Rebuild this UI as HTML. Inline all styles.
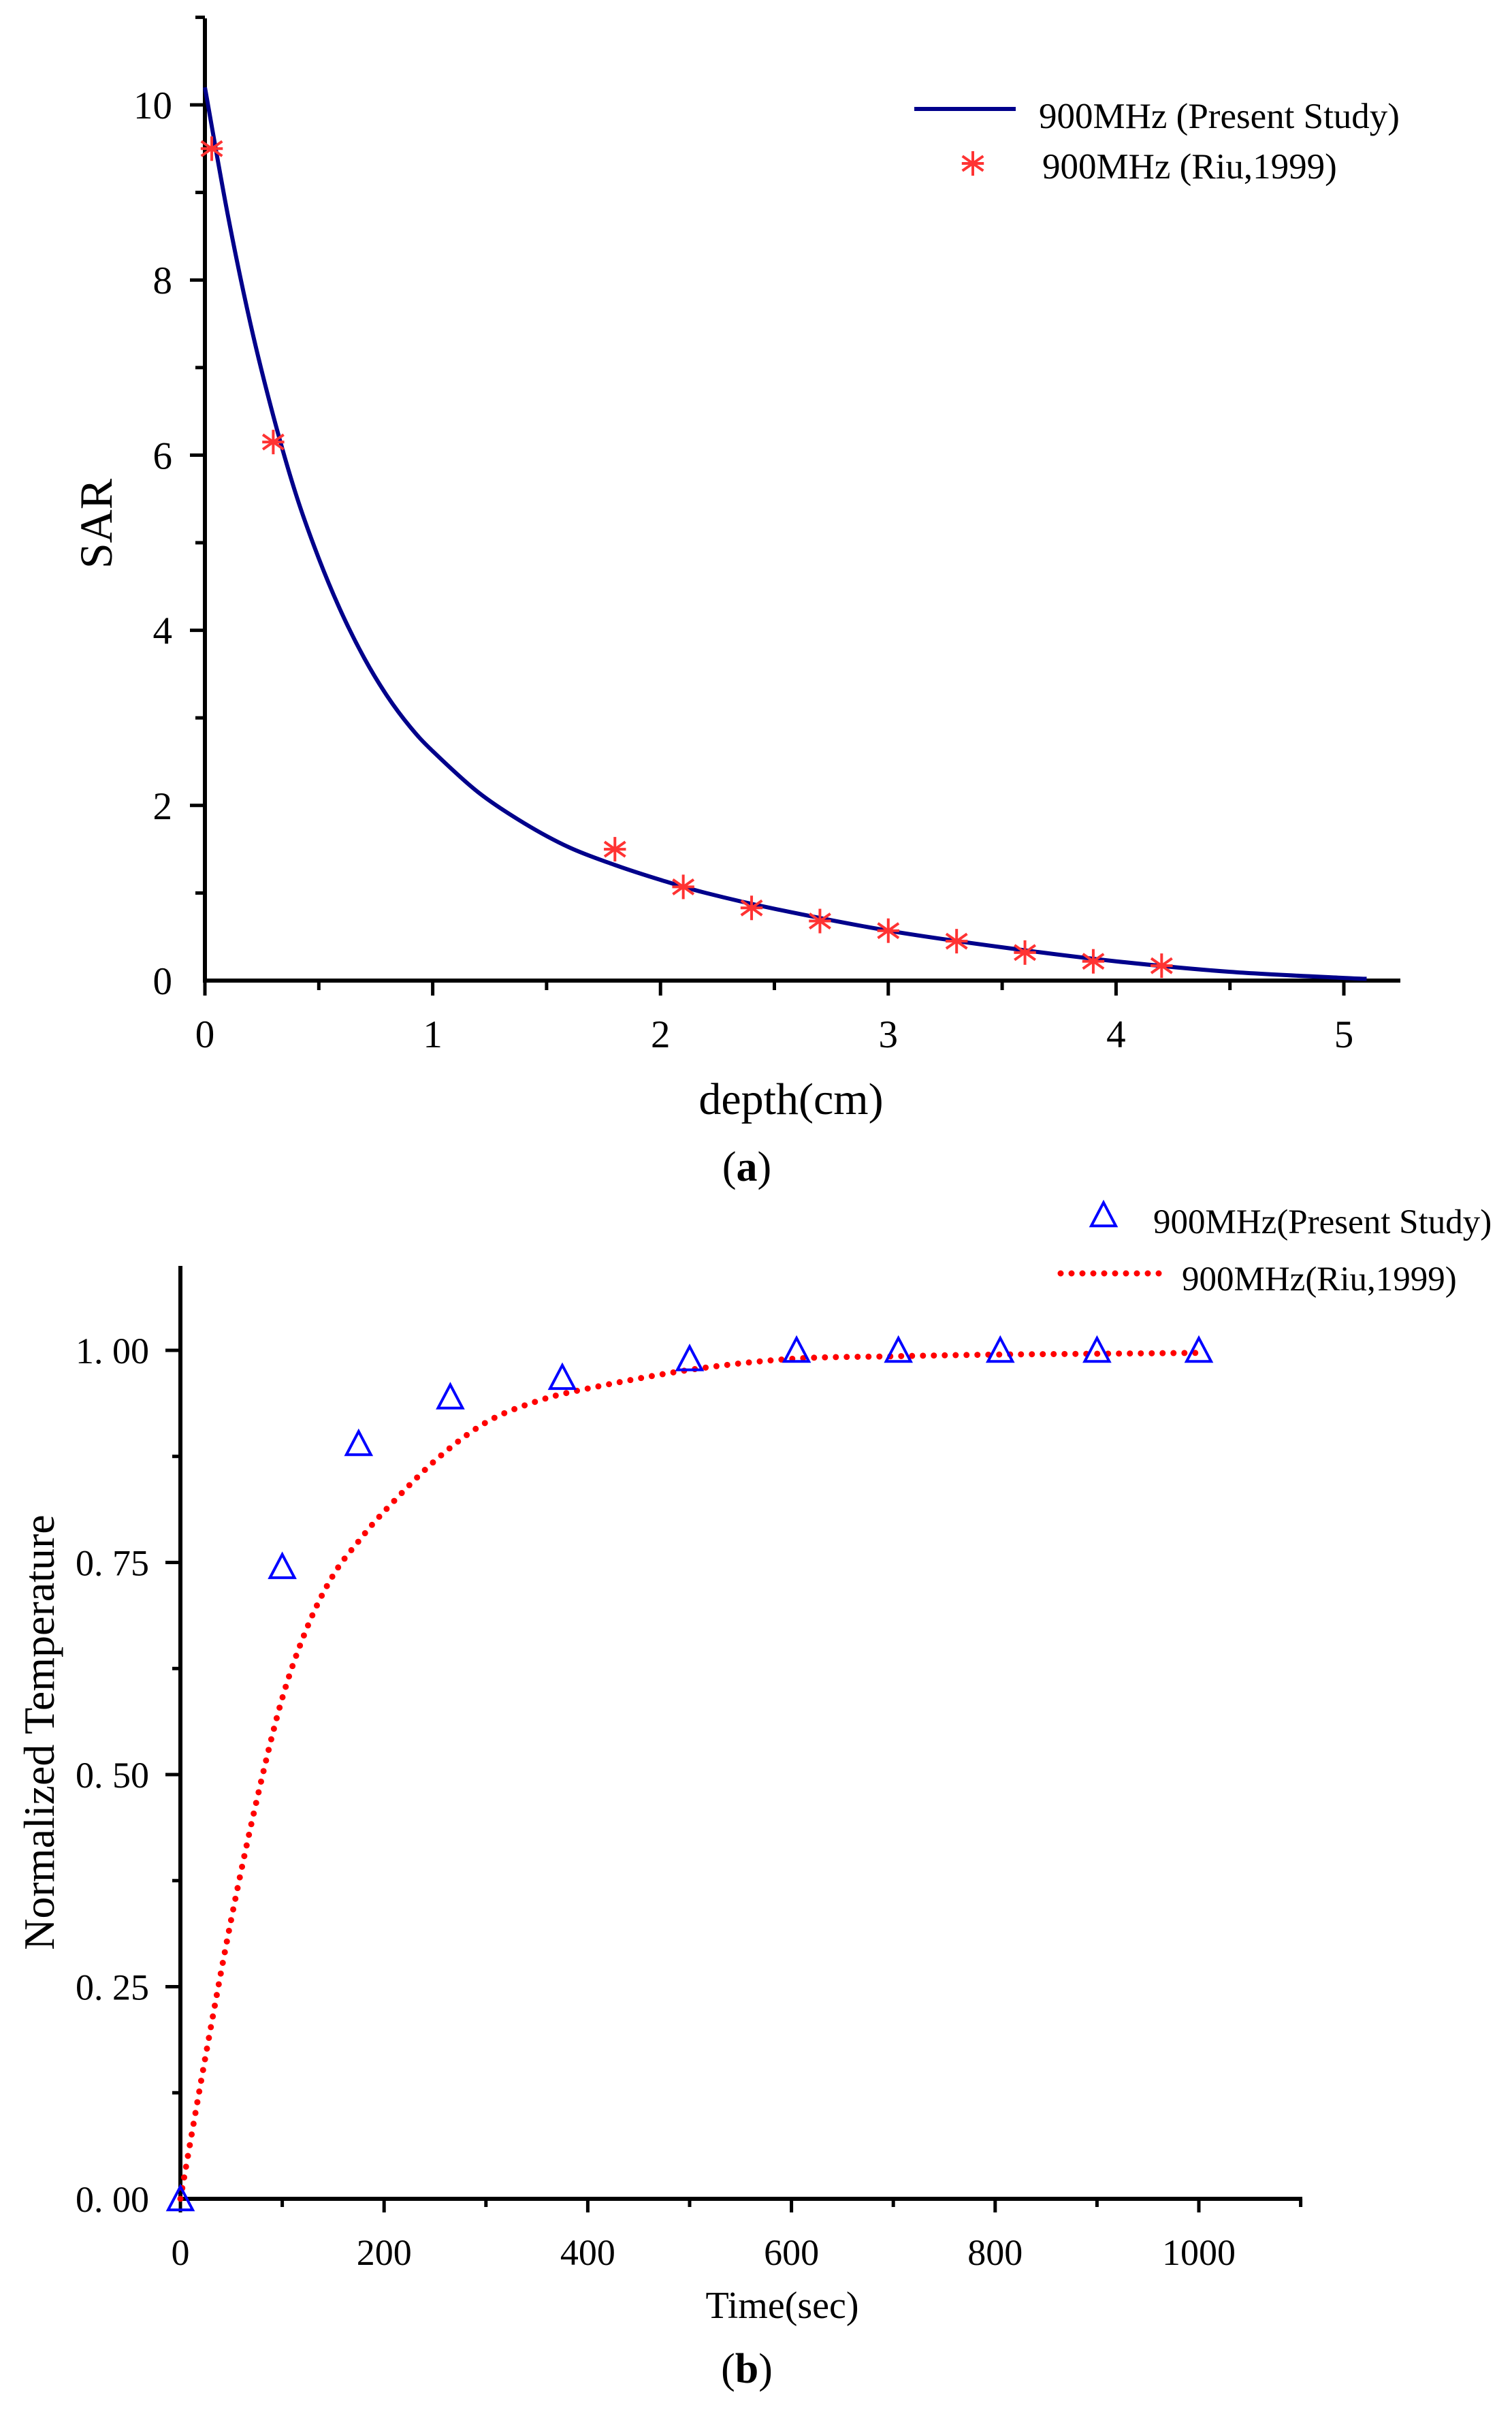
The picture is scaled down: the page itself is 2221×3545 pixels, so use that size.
<!DOCTYPE html>
<html><head><meta charset="utf-8"><style>
html,body{margin:0;padding:0;background:#fff}
svg{display:block}
text{font-family:"Liberation Serif",serif;fill:#000}
</style></head><body>
<svg id="fig" width="2221" height="3545" viewBox="0 0 2221 3545" xmlns="http://www.w3.org/2000/svg">
<g id="ga"></g>
<g id="gb"></g>
</svg>
<script>
// ---- Chart (a) data ----
const sarDepth = [0,0.1,0.2,0.3,0.4,0.5,0.6,0.7,0.8,0.9,1.0,1.2,1.4,1.6,1.8,2.0,2.2,2.5,3.0,3.5,4.0,4.5,5.0,5.1];
const sarValue = [10.2,8.75,7.5,6.45,5.55,4.82,4.2,3.68,3.25,2.9,2.62,2.15,1.8,1.52,1.32,1.15,1.0,0.82,0.57,0.38,0.22,0.1,0.03,0.02];
const riuDepth = [0.03,0.3,1.8,2.1,2.4,2.7,3.0,3.3,3.6,3.9,4.2];
const riuSar = [9.5,6.15,1.5,1.07,0.83,0.68,0.57,0.45,0.32,0.22,0.17];
const aXTicks = [0,1,2,3,4,5];
const aYTicks = [0,2,4,6,8,10];
// ---- Chart (b) data ----
const timeVals = [0,25,50,75,100,125,150,175,200,250,300,350,400,500,600,700,800,900,1000];
const riuTemp = [0,0.17,0.33,0.47,0.59,0.675,0.735,0.775,0.81,0.87,0.915,0.94,0.955,0.977,0.99,0.993,0.995,0.996,0.997];
const presTime = [0,100,175,265,375,500,605,705,805,900,1000];
const presTemp = [0,0.745,0.89,0.945,0.968,0.99,1.0,1.0,1.0,1.0,1.0];
const bXTicks = [0,200,400,600,800,1000];
const bYTicks = [0,0.25,0.5,0.75,1.0];
const bYLabels = ["0. 00","0. 25","0. 50","0. 75","1. 00"];

const NS = "http://www.w3.org/2000/svg";
function mk(parent, tag, attrs, txt){
  const e = document.createElementNS(NS, tag);
  for (const k in attrs) e.setAttribute(k, attrs[k]);
  if (txt !== undefined) e.textContent = txt;
  parent.appendChild(e);
  return e;
}
function smoothPath(pts){
  let d = "M" + pts[0][0] + "," + pts[0][1];
  for (let i=0;i<pts.length-1;i++){
    const p0=pts[Math.max(0,i-1)], p1=pts[i], p2=pts[i+1], p3=pts[Math.min(pts.length-1,i+2)];
    const c1x=p1[0]+(p2[0]-p0[0])/6, c1y=p1[1]+(p2[1]-p0[1])/6;
    const c2x=p2[0]-(p3[0]-p1[0])/6, c2y=p2[1]-(p3[1]-p1[1])/6;
    d += " C"+c1x+","+c1y+" "+c2x+","+c2y+" "+p2[0]+","+p2[1];
  }
  return d;
}

// ===== Chart (a) =====
const ga = document.getElementById('ga');
const ax = v => 301 + v*334.6;
const ay = v => 1440 - v*128.6;
let e;
e = mk(ga,'line',{x1:301,y1:27,x2:301,y2:1443,stroke:'#000','stroke-width':6});
 
e = mk(ga,'line',{x1:298,y1:1440,x2:2057,y2:1440,stroke:'#000','stroke-width':6});
 
for (let v=0; v<=5.01; v+=0.5){
  const major = Math.abs(v-Math.round(v))<0.01;
  e = mk(ga,'line',{x1:ax(v),y1:1440,x2:ax(v),y2:1440+(major?22:14),stroke:'#000','stroke-width':5});
   
}
for (let v=1; v<=11; v+=1){
  const major = v%2===0;
  e = mk(ga,'line',{x1:301,y1:ay(v),x2:301-(major?22:14),y2:ay(v),stroke:'#000','stroke-width':5});
   
}
aXTicks.forEach(v=>{
  e = mk(ga,'text',{x:ax(v),y:1538,'font-size':57,'text-anchor':'middle'},String(v));
   
});
aYTicks.forEach(v=>{
  e = mk(ga,'text',{x:253,y:ay(v)+20,'font-size':57,'text-anchor':'end'},String(v));
   
});
e = mk(ga,'text',{x:0,y:0,'font-size':68,'text-anchor':'middle',transform:'translate(164,769) rotate(-90)'},'SAR');
 
e = mk(ga,'text',{x:1162,y:1636,'font-size':66,'text-anchor':'middle'},'depth(cm)');
 
e = mk(ga,'text',{x:1097,y:1734,'font-size':62,'text-anchor':'middle'});
 
e.innerHTML = '(<tspan font-weight="bold">a</tspan>)';
e = mk(ga,'path',{d:smoothPath(sarDepth.map((d,i)=>[ax(d),ay(sarValue[i])])),fill:'none',stroke:'#00008b','stroke-width':6});
 
function star(parent,cx,cy,r){
  const g = mk(parent,'g',{stroke:'#ff3333','stroke-width':4});
  mk(g,'line',{x1:cx,y1:cy-r,x2:cx,y2:cy+r});
  mk(g,'line',{x1:cx-r*0.85,y1:cy-r*0.6,x2:cx+r*0.85,y2:cy+r*0.6});
  mk(g,'line',{x1:cx-r*0.85,y1:cy+r*0.6,x2:cx+r*0.85,y2:cy-r*0.6});
  mk(g,'line',{x1:cx-r*0.9,y1:cy,x2:cx+r*0.9,y2:cy});
  return g;
}
riuDepth.forEach((d,i)=>{
  const g = star(ga,ax(d),ay(riuSar[i]),18);
  
  
});
e = mk(ga,'line',{x1:1343,y1:160,x2:1492,y2:160,stroke:'#00008b','stroke-width':6});
 
e = mk(ga,'text',{x:1526,y:188,'font-size':53},'900MHz (Present Study)');
 
e = star(ga,1429,240,18);
 
e = mk(ga,'text',{x:1531,y:262,'font-size':53},'900MHz (Riu,1999)');
 

// ===== Chart (b) =====
const gb = document.getElementById('gb');
const bx = v => 265 + v*1.496;
const by = v => 3229 - v*1246;
e = mk(gb,'line',{x1:265,y1:1859,x2:265,y2:3232,stroke:'#000','stroke-width':6});
 
e = mk(gb,'line',{x1:262,y1:3229,x2:1913,y2:3229,stroke:'#000','stroke-width':6});
 
for (let v=0; v<=1100; v+=100){
  const major = v%200===0;
  e = mk(gb,'line',{x1:bx(v),y1:3229,x2:bx(v),y2:3229+(major?20:12),stroke:'#000','stroke-width':5});
   
}
for (let k=1; k<=8; k++){
  const v = k*0.125, major = k%2===0;
  e = mk(gb,'line',{x1:265,y1:by(v),x2:265-(major?22:12),y2:by(v),stroke:'#000','stroke-width':5});
   
}
bXTicks.forEach(v=>{
  e = mk(gb,'text',{x:bx(v),y:3326,'font-size':54,'text-anchor':'middle'},String(v));
   
});
bYTicks.forEach((v,i)=>{
  e = mk(gb,'text',{x:219,y:by(v)+19,'font-size':54,'text-anchor':'end','xml:space':'preserve'},bYLabels[i]);
   
});
e = mk(gb,'text',{x:0,y:0,'font-size':64,'text-anchor':'middle',transform:'translate(79,2544) rotate(-90)'},'Normalized Temperature');
 
e = mk(gb,'text',{x:1149,y:3404,'font-size':56,'text-anchor':'middle'},'Time(sec)');
 
e = mk(gb,'text',{x:1097,y:3499,'font-size':62,'text-anchor':'middle'});
 
e.innerHTML = '(<tspan font-weight="bold">b</tspan>)';
e = mk(gb,'path',{d:smoothPath(timeVals.map((t,i)=>[bx(t),by(riuTemp[i])])),fill:'none',stroke:'#ff0000','stroke-width':9,'stroke-linecap':'round','stroke-dasharray':'0 16'});
 
function tri(parent,cx,cy){
  const s=18;
  return mk(parent,'path',{d:`M${cx},${cy-s} L${cx+s},${cy+s*0.9} L${cx-s},${cy+s*0.9} Z`,fill:'none',stroke:'#0000ff','stroke-width':4});
}
presTime.forEach((t,i)=>{
  const p = tri(gb,bx(t),by(presTemp[i]));
  
  
});
e = tri(gb,1621,1784);
 
e = mk(gb,'text',{x:1694,y:1811,'font-size':51},'900MHz(Present Study)');
 
e = mk(gb,'line',{x1:1558,y1:1870,x2:1718,y2:1870,stroke:'#ff0000','stroke-width':9,'stroke-linecap':'round','stroke-dasharray':'0 16'});
 
e = mk(gb,'text',{x:1736,y:1895,'font-size':51},'900MHz(Riu,1999)');
 
</script>
</body></html>
